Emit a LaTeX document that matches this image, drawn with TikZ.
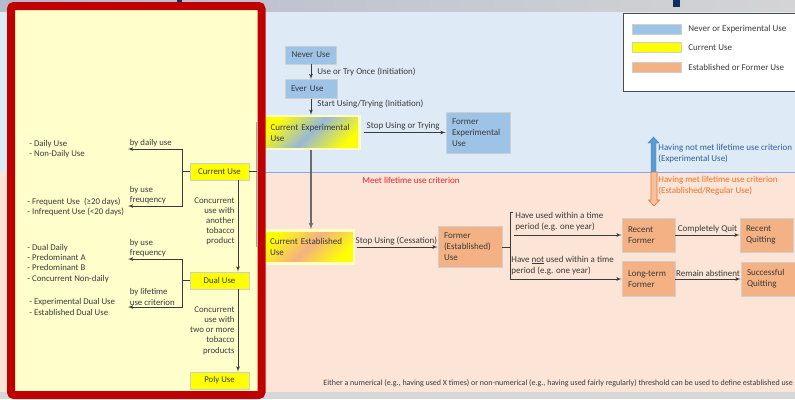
\documentclass[tikz,border=0pt]{standalone}
\usepackage{fontspec}
\setmainfont{Carlito}
\usetikzlibrary{arrows}
\definecolor{nblue}{HTML}{9DC3E6}
\definecolor{norange}{HTML}{F4B183}
\definecolor{nyellow}{HTML}{FFFF00}
\definecolor{panel}{HTML}{FFFFCC}
\definecolor{bandblue}{HTML}{DEEBF7}
\definecolor{bandpeach}{HTML}{FCE4D6}
\definecolor{bord}{HTML}{CFCFCF}
\definecolor{panelred}{HTML}{C00000}
\definecolor{glow}{HTML}{FFFFC4}
\definecolor{topl}{HTML}{B3BBCD}
\definecolor{topr}{HTML}{D4D4D4}
\definecolor{navy}{HTML}{0E2F5E}
\definecolor{arrblue}{HTML}{5B9BD5}
\definecolor{txtblue}{RGB}{46,94,154}
\definecolor{txtorange}{RGB}{232,114,44}
\definecolor{txtred}{RGB}{224,36,44}
\definecolor{ln}{HTML}{3A3A3A}
\newcommand\mainf{\fontsize{9}{11}\selectfont}
\newcommand\sidef{\fontsize{8.8}{10.2}\selectfont}
\newcommand\notef{\fontsize{8}{9}\selectfont}
\tikzstyle{box}=[draw=bord, inner xsep=6pt, inner ysep=1pt, align=left, font=\mainf]
\tikzstyle{bluebox}=[box, fill=nblue]
\tikzstyle{orbox}=[box, fill=norange]
\tikzstyle{mixbox}=[box, draw=glow, line width=2.5pt, inner xsep=8pt]
\tikzstyle{ybox}=[draw=bord, fill=nyellow, minimum width=59pt, minimum height=17pt, inner sep=0pt, font=\sidef]
\tikzstyle{side}=[align=left, inner sep=0pt, font=\sidef]
\tikzstyle{lbl}=[font=\mainf, inner sep=2pt]
\tikzstyle{note}=[font=\mainf, align=left, inner xsep=1pt, inner ysep=4pt]

\begin{document}
\begin{tikzpicture}[x=1pt,y=-1pt,auto,>=latex',color=ln,line width=0.8pt]
\useasboundingbox (0,0) rectangle (795,399);
\clip (0,0) rectangle (795,399);
% bands
\fill[bandblue] (0,11) rectangle (795,172);
\fill[bandpeach] (0,172) rectangle (795,392);
\fill[black!16] (0,392) rectangle (795,399);
\shade[left color=topl, right color=topr] (0,0) rectangle (795,11);
\fill[navy] (673,0) rectangle (680,7);
\fill[navy] (177,0) rectangle (182,2);
\draw[nblue!85!blue] (265,172) -- (795,172);

% legend
\draw[black!70, fill=white] (623,13) rectangle (800,91);
\foreach \y/\c/\t [count=\i] in {29/nblue/Never or Experimental Use, 47.5/nyellow/Current Use, 67/norange/Established or Former Use}
{
  \draw[bord, fill=\c] (632,\y-5) rectangle (681,\y+5);
  \node[lbl, anchor=west, inner sep=0pt] (leg\i) at (688,\y) {\t};
}

% lifetime criterion
\filldraw[fill=arrblue, draw=arrblue!80!black, line width=0.4pt] (651,172) -- (651,143) -- (648,143) -- (653.5,137) -- (659,143) -- (656,143) -- (656,172) -- cycle;
\filldraw[fill=norange!80, draw=txtorange, line width=0.6pt] (651,172) -- (651,200) -- (648.5,200) -- (654,206) -- (659.5,200) -- (657,200) -- (657,172) -- cycle;
\node[lbl, anchor=west, align=left, text=txtblue, inner sep=0pt] (notmet) at (658,153.5) {Having not met lifetime use criterion\\(Experimental Use)};
\node[lbl, anchor=west, align=left, text=txtorange, inner sep=0pt] (met) at (658,185.5) {Having met lifetime use criterion\\(Established/Regular Use)};
\node[lbl, text=txtred] (meet) at (411,180) {Meet lifetime use criterion};

% stages
\node[bluebox, text width=39pt, minimum height=18pt] (never) at (311,55) {Never Use};
\node[bluebox, text width=40pt, minimum height=19pt] (ever) at (311,89) {Ever Use};
\node[mixbox, text width=81pt, minimum height=33pt, left color=nyellow, right color=nyellow, middle color=nblue!85!gray, shading angle=45] (curexp) at (311,132.5) {Current Experimental\\Use};
\node[bluebox, text width=52pt, minimum height=41pt] (formerexp) at (478,132.5) {Former\\Experimental\\Use};
\node[mixbox, text width=76pt, minimum height=33pt, left color=nyellow, right color=nyellow, middle color=norange, shading angle=45] (curest) at (308,247) {Current Established\\Use};
\node[orbox, text width=52pt, minimum height=41pt] (formerest) at (470,247) {Former\\(Established)\\Use};
\node[orbox, text width=41pt, minimum height=34pt] (recent) at (648.5,235) {Recent\\Former};
\node[orbox, text width=41pt, minimum height=35pt] (longterm) at (648.5,279) {Long-term\\Former};
\node[orbox, text width=41pt, minimum height=34pt] (recentq) at (766.5,235) {Recent\\Quitting};
\node[orbox, text width=42pt, minimum height=34pt] (succq) at (768,279) {Successful\\Quitting};

\path[->] (never) edge node[lbl, inner xsep=6pt] {Use or Try Once (Initiation)} (ever);
\path[->] (ever) edge node[lbl, inner xsep=6pt, pos=0.35] {Start Using/Trying (Initiation)} (curexp);
\path[->] (curexp) edge[shorten <=3pt] node[lbl] {Stop Using or Trying} (formerexp);
\draw[->, gray!85!black, line width=1.2pt] (curexp.south) -- (curexp.south |- curest.north);
\path[->] (curest) edge[shorten <=2pt] node[lbl] {Stop Using (Cessation)} (formerest);

\coordinate (fb0) at (510,212);
\coordinate (fb1) at (513,212);
\coordinate (fb2) at (510,279);
\coordinate (fa) at (514,235);
\draw (formerest) -- (formerest -| fb0);
\draw[->] (fb1) -- (fb0) -- (fb2) -- node[note, pos=0, anchor=south west] {Have \underline{not} used within a time\\period (e.g. one year)} (longterm);
\draw[->] (fa) -- node[note, pos=0, anchor=south west] {Have used within a time\\period (e.g. one year)} (recent);
\path[->] (recent) edge node[lbl] {Completely Quit} (recentq);
\path[->] (longterm) edge node[lbl] {Remain abstinent} (succq);

\node[font=\notef, anchor=west, inner sep=0pt] (thresh) at (323,383) {Either a numerical (e.g., having used X times) or non-numerical (e.g., having used fairly regularly) threshold can be used to define established use};

% current use panel
\draw[panelred, line width=8pt, fill=panel, rounded corners=3pt] (11,6) rectangle (261.5,395);
\draw[gray!70] (256.5,122) -- (256.5,247);
\node[ybox] (curuse) at (219.5,171.5) {Current Use};
\node[ybox] (dualuse) at (219.5,280.5) {Dual Use};
\node[ybox] (polyuse) at (219.5,380.5) {Poly Use};
\coordinate (cue) at (256.5,171.5);
\draw (curuse) -- (cue);

\draw[->] ([xshift=18.5pt]curuse.south) -- node[swap, side, align=right, pos=0.45, inner xsep=3pt] {Concurrent\\use with\\another\\tobacco\\product} ([xshift=18.5pt]dualuse.north);
\draw[->] ([xshift=18.5pt]dualuse.south) -- node[swap, side, align=right, inner xsep=3pt] {Concurrent\\use with\\two or more\\tobacco\\products} ([xshift=18.5pt]polyuse.north);

\coordinate (cb1) at (182,149); \coordinate (cb2) at (182,206);
\coordinate (ct1) at (128,149); \coordinate (ct2) at (128,206);
\draw (curuse) -- (curuse -| cb1);
\draw[<->] (ct1) -- node[side, pos=0, anchor=south west, inner sep=1.5pt] {by daily use} (cb1) -- (cb2) -- node[side, pos=1, anchor=south west, inner sep=1.5pt] {by use\\freuqency} (ct2);

\coordinate (db1) at (182,259); \coordinate (db2) at (182,307);
\coordinate (dt1) at (128,259); \coordinate (dt2) at (128,307);
\draw (dualuse) -- (dualuse -| db1);
\draw[<->] (dt1) -- node[side, pos=0, anchor=south west, inner sep=1.5pt] {by use\\frequency} (db1) -- (db2) -- node[side, pos=1, anchor=south west, inner sep=1.5pt] {by lifetime\\use criterion} (dt2);

\node[side, anchor=west] (dlist) at (29,149) {- Daily Use\\- Non-Daily Use};
\node[side, anchor=west] (flist) at (27,207) {- Frequent Use~~(≥20 days)\\- Infrequent Use (<20 days)};
\node[side, anchor=west] (duallist) at (27,263.5) {- Dual Daily\\- Predominant A\\- Predominant B\\- Concurrent Non-daily};
\node[side, anchor=west] (explist) at (29,307) {- Experimental Dual Use\\- Established Dual Use};
\end{tikzpicture}
\end{document}
